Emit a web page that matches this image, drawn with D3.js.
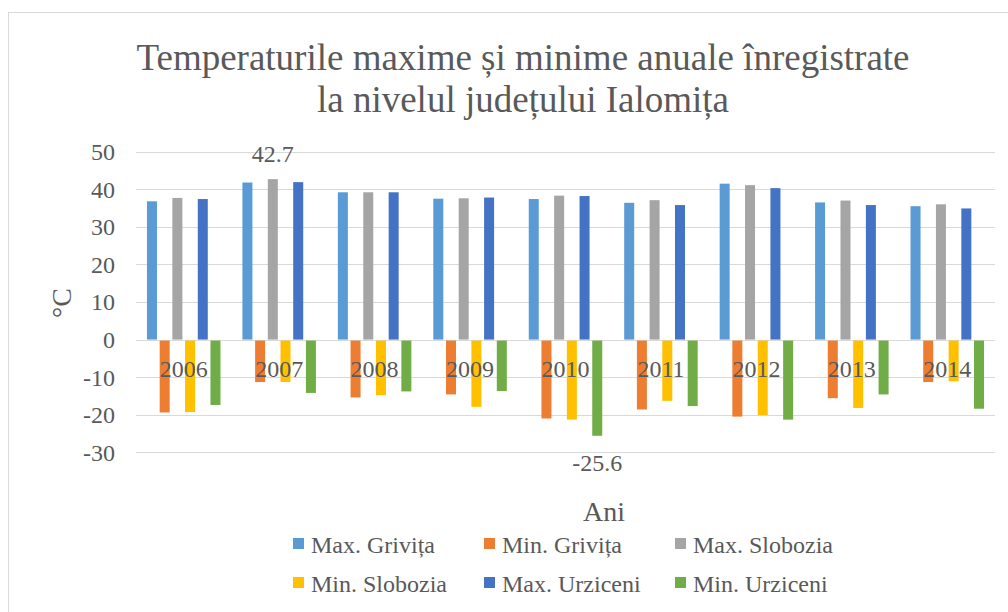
<!DOCTYPE html>
<html>
<head>
<meta charset="utf-8">
<script src="https://cdn.jsdelivr.net/npm/d3@7"></script>
<style>
  body { margin: 0; background: #fff; }
  text { font-family: "Liberation Serif", "Times New Roman", serif; fill: #595959; }
</style>
</head>
<body>
<svg id="chart" width="1008" height="612"></svg>
<script>
const years = ["2006", "2007", "2008", "2009", "2010", "2011", "2012", "2013", "2014"];
const seriesNames = ["Max. Grivița", "Min. Grivița", "Max. Slobozia", "Min. Slobozia", "Max. Urziceni", "Min. Urziceni"];
const seriesColors = ["#5B9BD5", "#ED7D31", "#A5A5A5", "#FFC000", "#4472C4", "#70AD47"];
const maxGrivita = [36.8, 41.8, 39.2, 37.5, 37.4, 36.4, 41.5, 36.5, 35.5];
const minGrivita = [-19.4, -11.3, -15.4, -14.6, -21.0, -18.6, -20.5, -15.6, -11.3];
const maxSlobozia = [37.7, 42.7, 39.2, 37.6, 38.3, 37.1, 41.1, 37.0, 36.0];
const minSlobozia = [-19.3, -11.3, -14.8, -17.9, -21.3, -16.3, -20.1, -18.2, -11.1];
const maxUrziceni = [37.4, 41.9, 39.2, 37.8, 38.2, 35.8, 40.3, 35.8, 34.9];
const minUrziceni = [-17.4, -14.2, -13.8, -13.7, -25.6, -17.7, -21.3, -14.6, -18.4];
const yTicks = [50, 40, 30, 20, 10, 0, -10, -20, -30];

const seriesValues = [maxGrivita, minGrivita, maxSlobozia, minSlobozia, maxUrziceni, minUrziceni];
const rows = [];
seriesValues.forEach((vals, s) => {
  vals.forEach((v, i) => rows.push({ series: seriesNames[s], year: years[i], value: v, s }));
});

const svg = d3.select("#chart");

// chart frame (the right/bottom edges are outside the picture)
svg.append("rect")
  .attr("x", 8.5).attr("y", 12.5)
  .attr("width", 1020).attr("height", 620)
  .attr("fill", "none").attr("stroke", "#D9D9D9").attr("stroke-width", 1);

const plot = { left: 136, right: 995, top: 151.7, bottom: 452.3 };

const y = d3.scaleLinear().domain([-30, 50]).range([plot.bottom, plot.top]);
const x0 = d3.scaleBand().domain(years).range([plot.left, plot.right]).padding(0);
const gap = x0.step() - 73.5;
const x1 = d3.scaleBand().domain(seriesNames)
  .range([gap / 2, x0.step() - gap / 2])
  .paddingInner(0.27 / 1.27).paddingOuter(0);

// gridlines
svg.append("g")
  .selectAll("line")
  .data(yTicks)
  .join("line")
  .attr("x1", plot.left).attr("x2", plot.right)
  .attr("y1", d => Math.round(y(d)) + 0.5).attr("y2", d => Math.round(y(d)) + 0.5)
  .attr("stroke", "#D9D9D9").attr("stroke-width", 1);

// y tick labels
svg.append("g")
  .selectAll("text")
  .data(yTicks)
  .join("text")
  .attr("x", 115)
  .attr("y", d => y(d))
  .attr("dy", "0.35em")
  .attr("text-anchor", "end")
  .style("font-size", "24px")
  .text(d => d);

// bars
svg.append("g")
  .selectAll("rect")
  .data(rows)
  .join("rect")
  .attr("x", d => x0(d.year) + x1(d.series))
  .attr("width", x1.bandwidth())
  .attr("y", d => d.value >= 0 ? y(d.value) : y(0) + 1)
  .attr("height", d => d.value >= 0 ? y(0) - y(d.value) : y(d.value) - y(0) - 1)
  .attr("fill", d => seriesColors[d.s]);

// category labels sitting on the zero line
svg.append("g")
  .selectAll("text")
  .data(years)
  .join("text")
  .attr("x", d => x0(d) + x0.bandwidth() / 2)
  .attr("y", y(0) + 37)
  .attr("text-anchor", "middle")
  .style("font-size", "24px")
  .text(d => d);

// data labels for the extremes
const maxRow = rows.find(d => d.series === "Max. Slobozia" && d.year === "2007");
const minRow = rows.find(d => d.series === "Min. Urziceni" && d.year === "2010");
svg.append("text")
  .attr("x", x0(maxRow.year) + x1(maxRow.series) + x1.bandwidth() / 2)
  .attr("y", y(maxRow.value) - 17)
  .attr("text-anchor", "middle")
  .style("font-size", "24px")
  .text(maxRow.value.toFixed(1));
svg.append("text")
  .attr("x", x0(minRow.year) + x1(minRow.series) + x1.bandwidth() / 2)
  .attr("y", y(minRow.value) + 35)
  .attr("text-anchor", "middle")
  .style("font-size", "24px")
  .text(minRow.value.toFixed(1));

// title
const title = svg.append("text")
  .attr("x", 523)
  .attr("text-anchor", "middle")
  .style("font-size", "37px");
title.append("tspan").attr("x", 523).attr("y", 70).text("Temperaturile maxime și minime anuale înregistrate");
title.append("tspan").attr("x", 523).attr("y", 112).text("la nivelul județului Ialomița");

// axis titles
svg.append("text")
  .attr("transform", "translate(71,303) rotate(-90)")
  .attr("text-anchor", "middle")
  .style("font-size", "28px")
  .text("°C");
svg.append("text")
  .attr("x", 604).attr("y", 521)
  .attr("text-anchor", "middle")
  .style("font-size", "28px")
  .text("Ani");

// legend, 3 columns x 2 rows
const legendCols = [293, 484, 675];
const legendRows = [553, 592];
const legend = svg.append("g")
  .selectAll("g")
  .data(seriesNames)
  .join("g")
  .attr("transform", (d, i) => `translate(${legendCols[i % 3]},${legendRows[Math.floor(i / 3)]})`);
legend.append("rect")
  .attr("x", 0).attr("y", -15)
  .attr("width", 11).attr("height", 11)
  .attr("fill", (d, i) => seriesColors[i]);
legend.append("text")
  .attr("x", 18).attr("y", 0)
  .style("font-size", "24px")
  .text(d => d);
</script>
</body>
</html>
